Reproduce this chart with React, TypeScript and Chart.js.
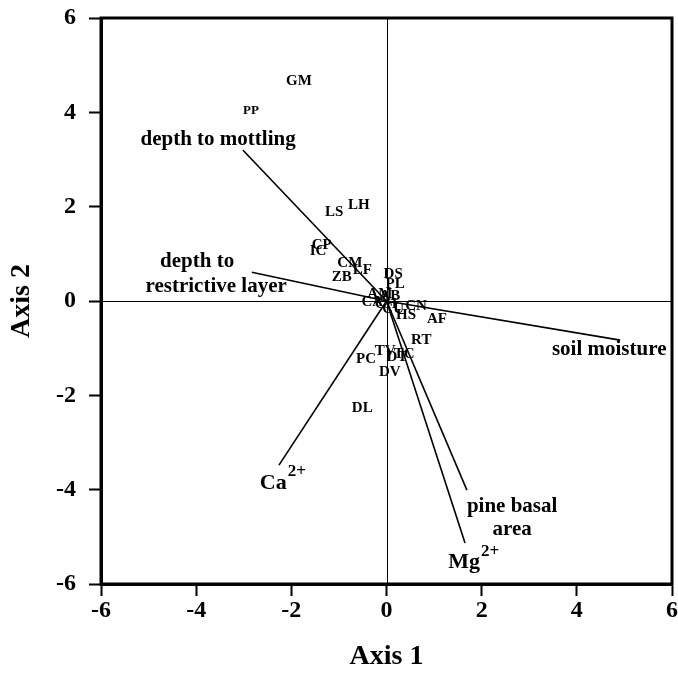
import React, { useEffect, useRef } from "react";
import { Chart, registerables } from "chart.js";

Chart.register(...registerables);

// Species codes (sample scores)
const speciesCodes = ["GM", "PP", "LS", "LH", "CP", "IC", "CM", "LF", "ZB", "DS", "PL", "AM", "AB", "CA", "CH", "CU", "HS", "CN", "AF", "RT", "TV", "DT", "TC", "DV", "PC", "DL"];
const speciesX = [-1.84, -2.85, -1.10, -0.58, -1.36, -1.44, -0.77, -0.51, -0.94, 0.14, 0.18, -0.14, 0.07, -0.30, -0.01, 0.14, 0.41, 0.62, 1.06, 0.73, -0.03, 0.22, 0.37, 0.07, -0.43, -0.51];
const speciesY = [4.66, 4.03, 1.89, 2.04, 1.19, 1.06, 0.81, 0.66, 0.51, 0.57, 0.36, 0.15, 0.11, -0.02, -0.06, -0.17, -0.30, -0.11, -0.38, -0.83, -1.06, -1.19, -1.12, -1.51, -1.23, -2.27];

// Environmental vectors (biplot arrows from origin)
const vectorNames = ["depth to mottling", "depth to restrictive layer", "soil moisture", "Ca2+", "pine basal area", "Mg2+"];
const vectorX = [-3.02, -2.83, 4.91, -2.26, 1.69, 1.65];
const vectorY = [3.20, 0.61, -0.83, -3.48, -4.01, -5.13];

// Vector label lines (text, superscript, anchor in data units)
const labelText = ["depth to mottling", "depth to", "restrictive layer", "soil moisture", "pine basal", "area", "Ca", "Mg"];
const labelSup = ["", "", "", "", "", "", "2+", "2+"];
const labelX = [-3.54, -3.98, -3.58, 4.68, 2.64, 2.64, -2.19, 1.82];
const labelY = [3.43, 0.83, 0.30, -1.02, -4.35, -4.85, -3.86, -5.55];

// Axis ticks
const axisMin = -6;
const axisMax = 6;
const tickStep = 2;
const xTitle = "Axis 1";
const yTitle = "Axis 2";

const FONT = "'Liberation Serif', 'Times New Roman', serif";

const labelPlugin = {
  id: "biplotLabels",
  beforeDatasetsDraw(chart: any) {
    const { ctx, chartArea, scales } = chart;
    const x0 = Math.round(scales.x.getPixelForValue(0)) + 0.5;
    const y0 = Math.round(scales.y.getPixelForValue(0)) + 0.5;
    ctx.save();
    ctx.strokeStyle = "#000";
    ctx.lineWidth = 1;
    ctx.beginPath();
    ctx.moveTo(x0, chartArea.top);
    ctx.lineTo(x0, chartArea.bottom);
    ctx.moveTo(chartArea.left, y0);
    ctx.lineTo(chartArea.right, y0);
    ctx.stroke();
    ctx.restore();
  },
  afterDatasetsDraw(chart: any) {
    const { ctx, chartArea, scales } = chart;
    const sx = scales.x;
    const sy = scales.y;
    ctx.save();
    ctx.fillStyle = "#000";
    ctx.textAlign = "center";
    ctx.textBaseline = "middle";
    // species codes
    speciesCodes.forEach((code, i) => {
      ctx.font = `bold ${code === "PP" ? 13 : 15}px ${FONT}`;
      ctx.fillText(code, sx.getPixelForValue(speciesX[i]), sy.getPixelForValue(speciesY[i]));
    });
    // vector labels
    labelText.forEach((t, i) => {
      const px = sx.getPixelForValue(labelX[i]);
      const py = sy.getPixelForValue(labelY[i]);
      const sup = labelSup[i];
      if (!sup) {
        ctx.font = `bold 21px ${FONT}`;
        ctx.textAlign = "center";
        ctx.fillText(t, px, py);
      } else {
        ctx.font = `bold 22px ${FONT}`;
        const w1 = ctx.measureText(t).width;
        ctx.font = `bold 17px ${FONT}`;
        const w2 = ctx.measureText(sup).width;
        const left = px - (w1 + w2) / 2;
        ctx.textAlign = "left";
        ctx.font = `bold 22px ${FONT}`;
        ctx.fillText(t, left, py);
        ctx.font = `bold 17px ${FONT}`;
        ctx.fillText(sup, left + w1 + 1, py - 11);
        ctx.textAlign = "center";
      }
    });
    // frame top and right
    ctx.strokeStyle = "#000";
    ctx.lineWidth = 3;
    ctx.strokeRect(chartArea.left, chartArea.top, chartArea.right - chartArea.left, chartArea.bottom - chartArea.top);
    // axis titles
    ctx.font = `bold 28px ${FONT}`;
    ctx.textAlign = "center";
    ctx.textBaseline = "middle";
    ctx.fillText(xTitle, (chartArea.left + chartArea.right) / 2, 657);
    ctx.translate(22, (chartArea.top + chartArea.bottom) / 2);
    ctx.rotate(-Math.PI / 2);
    ctx.fillText(yTitle, 0, 0);
    ctx.restore();
  },
};

export default function App() {
  const ref = useRef<HTMLCanvasElement | null>(null);

  useEffect(() => {
    if (!ref.current) return;
    const vectorDatasets = vectorNames.map((name, i) => ({
      label: name,
      data: [
        { x: 0, y: 0 },
        { x: vectorX[i], y: vectorY[i] },
      ],
      showLine: true,
      borderColor: "#000",
      borderWidth: 1.6,
      pointRadius: 0,
      fill: false,
    }));
    const speciesDataset = {
      label: "species",
      data: speciesCodes.map((_, i) => ({ x: speciesX[i], y: speciesY[i] })),
      pointRadius: 0,
      showLine: false,
    };
    const chart = new Chart(ref.current, {
      type: "scatter",
      data: { datasets: [speciesDataset, ...vectorDatasets] as any },
      options: {
        animation: false,
        responsive: false,
        maintainAspectRatio: false,
        layout: { padding: { top: 18, right: 6, left: 0, bottom: 0 } },
        plugins: {
          legend: { display: false },
          tooltip: { enabled: false },
        },
        scales: {
          x: {
            type: "linear",
            min: axisMin,
            max: axisMax,
            afterFit: (s: any) => {
              s.height = 103;
              s.paddingLeft = 0;
              s.paddingRight = 0;
            },
            ticks: {
              stepSize: tickStep,
              color: "#000",
              padding: 0,
              font: { family: FONT, size: 24, weight: "bold" },
            },
            grid: {
              drawOnChartArea: false,
              drawTicks: true,
              tickLength: 12,
              tickWidth: 2,
              tickColor: "#000",
            },
            border: { display: true, color: "#000", width: 3 },
          },
          y: {
            type: "linear",
            min: axisMin,
            max: axisMax,
            afterFit: (s: any) => {
              s.width = 101;
              s.paddingTop = 0;
              s.paddingBottom = 0;
            },
            ticks: {
              stepSize: tickStep,
              color: "#000",
              padding: 13,
              font: { family: FONT, size: 24, weight: "bold" },
            },
            grid: {
              drawOnChartArea: false,
              drawTicks: true,
              tickLength: 12,
              tickWidth: 2,
              tickColor: "#000",
            },
            border: { display: true, color: "#000", width: 3 },
          },
        },
      },
      plugins: [labelPlugin],
    });
    return () => chart.destroy();
  }, []);

  return (
    <div style={{ position: "fixed", left: 0, top: 0, width: 678, height: 687, background: "#fff" }}>
      <canvas ref={ref} width={678} height={687} style={{ display: "block" }} />
    </div>
  );
}
